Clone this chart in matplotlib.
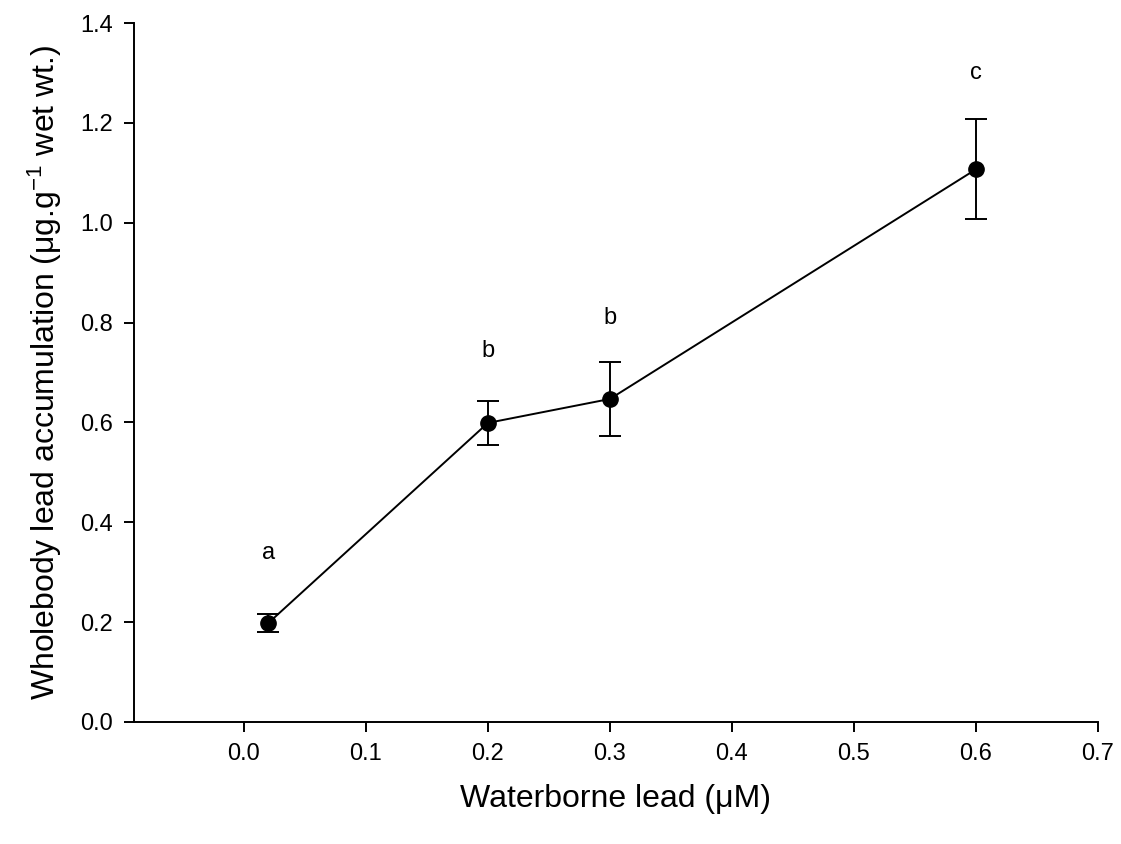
import matplotlib
matplotlib.use("Agg")
import matplotlib.pyplot as plt

x = [0.02, 0.2, 0.3, 0.6]
y = [0.198, 0.599, 0.647, 1.107]
err = [0.018, 0.044, 0.075, 0.100]
letters = ["a", "b", "b", "c"]
letter_y = [0.338, 0.743, 0.81, 1.30]
xticks = [0.0, 0.1, 0.2, 0.3, 0.4, 0.5, 0.6, 0.7]
yticks = [0.0, 0.2, 0.4, 0.6, 0.8, 1.0, 1.2, 1.4]

plt.rcParams['font.family'] = ['Liberation Sans', 'DejaVu Sans']
plt.rcParams['mathtext.fontset'] = 'custom'
plt.rcParams['mathtext.rm'] = 'Liberation Sans'
plt.rcParams['mathtext.it'] = 'Liberation Sans'

fig = plt.figure(figsize=(11.21, 8.44), dpi=100)
ax = fig.add_axes([134/1121, 1-722/844, (1098-134)/1121, (722-23)/844])

ax.errorbar(x, y, yerr=err, color='black', lw=1.4, marker='o', ms=11,
            capsize=8, capthick=1.4, elinewidth=1.4, mfc='black', mec='black')
for xi, yi, t in zip(x, letter_y, letters):
    ax.text(xi, yi, t, ha='center', va='center', fontsize=17)

ax.set_xlim(-0.09, 0.7)
ax.set_ylim(0.0, 1.4)
ax.set_xticks(xticks)
ax.set_xticklabels([f"{v:.1f}" for v in xticks])
ax.set_yticks(yticks)
ax.set_yticklabels([f"{v:.1f}" for v in yticks])
ax.spines['top'].set_visible(False)
ax.spines['right'].set_visible(False)
for s in ['left', 'bottom']:
    ax.spines[s].set_linewidth(1.4)
ax.tick_params(direction='out', length=7, width=1.4, labelsize=17, pad=8)

ax.set_xlabel("Waterborne lead (\u03bcM)", fontsize=23, labelpad=14)
ax.set_ylabel("Wholebody lead accumulation (\u03bcg.g$^{-1}$ wet wt.)", fontsize=23, labelpad=12)

fig.savefig("out.png", dpi=100)
